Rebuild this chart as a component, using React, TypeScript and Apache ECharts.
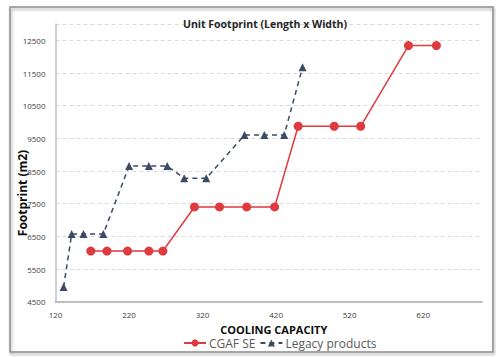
import React, { useEffect, useRef } from "react";
import * as echarts from "echarts";

const cgafX = [168, 190, 218, 247, 266, 309, 343, 380, 418, 450, 499, 535, 600, 638];
const cgafY = [6050, 6050, 6050, 6050, 6050, 7400, 7400, 7400, 7400, 9870, 9870, 9870, 12340, 12340];
const legacyX = [131, 142, 158, 185, 220, 247, 272, 295, 325, 377, 404, 431, 456];
const legacyY = [4950, 6570, 6570, 6570, 8650, 8650, 8650, 8280, 8280, 9600, 9600, 9600, 11680];

const FONT = "'Open Sans', 'Liberation Sans', sans-serif";

export default function App() {
  const ref = useRef<HTMLDivElement>(null);
  useEffect(() => {
    const chart = echarts.init(ref.current!, null, { renderer: "svg" });
    chart.setOption({
      animation: false,
      backgroundColor: "#ffffff",
      textStyle: { fontFamily: FONT },
      title: {
        text: "Unit Footprint (Length x Width)",
        left: 260,
        top: 13,
        textAlign: "center",
        textStyle: { fontSize: 10.5, fontWeight: "bold", color: "#262626", fontFamily: FONT },
      },
      grid: { left: 55.5, right: 14, top: 24, bottom: 55.3, containLabel: false },
      xAxis: {
        type: "value",
        min: 120,
        max: 700,
        interval: 100,
        name: "COOLING CAPACITY",
        nameLocation: "middle",
        nameGap: 19,
        nameTextStyle: { fontSize: 11, fontWeight: "bold", color: "#0d0d0d", fontFamily: FONT, padding: [0, 0, 0, 10] },
        axisLine: { lineStyle: { color: "#bfbfbf", width: 2 } },
        axisTick: { show: false },
        splitLine: { show: false },
        axisLabel: { fontSize: 8, color: "#404040", showMaxLabel: false, margin: 9, formatter: (v: number) => String(v) },
      },
      yAxis: {
        type: "value",
        min: 4500,
        max: 13000,
        interval: 1000,
        axisLine: { show: true, lineStyle: { color: "#bfbfbf", width: 1.5 } },
        axisTick: { show: false },
        splitLine: { show: true, lineStyle: { color: "#d9d9d9", type: [4, 3], width: 1 } },
        axisLabel: { fontSize: 8, color: "#404040", showMaxLabel: false, margin: 10, formatter: (v: number) => String(v) },
      },
      legend: {
        bottom: 3,
        left: 178,
        itemGap: 4,
        itemWidth: 22,
        itemHeight: 9,
        textStyle: { fontSize: 12, color: "#595959", fontFamily: FONT, padding: [0, 0, 0, -2] },
        data: ["CGAF SE", "Legacy products"],
      },
      graphic: [
        {
          type: "rect",
          shape: { x: 10, y: 7, width: 483, height: 345 },
          style: { fill: "none", stroke: "#8c8c8c", lineWidth: 1.5, shadowColor: "rgba(0,0,0,0.35)", shadowBlur: 3, shadowOffsetX: 1, shadowOffsetY: 2 },
          silent: true,
          z: -1,
        },
        {
          type: "text",
          x: 22,
          y: 193,
          rotation: Math.PI / 2,
          style: {
            text: "Footprint (m2)",
            fontSize: 12,
            fontWeight: "bold",
            fill: "#0d0d0d",
            fontFamily: FONT,
            textAlign: "center",
            textVerticalAlign: "middle",
          },
        },
      ],
      series: [
        {
          name: "CGAF SE",
          type: "line",
          data: cgafX.map((x, i) => [x, cgafY[i]]),
          symbol: "circle",
          symbolSize: 9,
          itemStyle: { color: "#e0393e" },
          lineStyle: { color: "#e0393e", width: 1.5 },
          z: 3,
        },
        {
          name: "Legacy products",
          type: "line",
          data: legacyX.map((x, i) => [x, legacyY[i]]),
          symbol: "triangle",
          symbolSize: 8,
          itemStyle: { color: "#3a4b66" },
          lineStyle: { color: "#3a4b66", width: 1.5, type: [5, 4] },
          z: 2,
        },
      ],
    });
    return () => chart.dispose();
  }, []);
  return <div ref={ref} style={{ width: 496, height: 357, position: "absolute", left: 0, top: 0 }} />;
}
